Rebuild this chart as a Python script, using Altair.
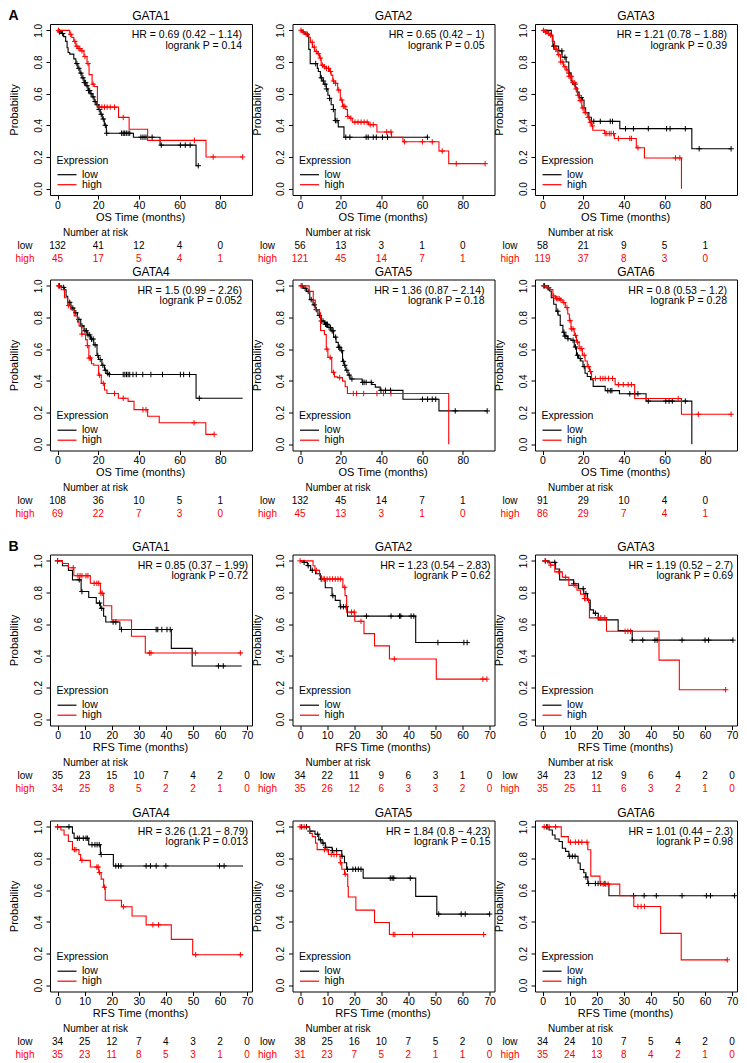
import altair as alt
import pandas as pd

FONT = "Liberation Sans"
RED = "#FF0000"
W, H = 202, 171
YDOM = [-0.04, 1.04]
OS_DOM = [-3.7, 95.6]
RFS_DOM = [-2.8, 71.8]
os_ticks = [0, 20, 40, 60, 80]
rfs_ticks = [0, 10, 20, 30, 40, 50, 60, 70]
y_ticks = [0.0, 0.2, 0.4, 0.6, 0.8, 1.0]

# ---------------- A: overall survival ----------------
a1_low = [(0,1.0),(1,0.99),(2,0.98),(3,0.96),(4,0.93),(4.7,0.89),(5.2,0.86),(6,0.85),(8,0.82),(9,0.79),(10,0.76),(11,0.73),(12,0.70),(13,0.67),(14,0.65),(15,0.62),(16,0.60),(17,0.58),(18,0.55),(19,0.53),(20,0.50),(21,0.47),(22,0.44),(23,0.40),(24,0.35),(37.3,0.325),(50.4,0.275),(68.1,0.145),(69.2,0.145)]
a1_low_c = [1, 2.5, 9.5, 10.5, 11.5, 12.5, 13.2, 13.8, 14.5, 15.2, 15.8, 16.5, 17.5, 18.5, 19.5, 20.5, 21.5, 22.5, 23.5, 24.2, 31.5, 32.3, 33, 33.8, 34.7, 35.5, 41, 42, 43, 44, 46.5, 51, 60.4, 62.8, 65.2, 69.2]
a1_high = [(0,1.0),(6,0.975),(7,0.955),(8,0.93),(9,0.90),(10,0.885),(11.5,0.87),(13,0.835),(14.5,0.79),(15.5,0.72),(17,0.66),(18,0.645),(19.6,0.515),(30,0.45),(35.2,0.375),(44.3,0.305),(73,0.20),(91,0.20)]
a1_high_c = [0.5, 6.5, 8.5, 9.5, 10.5, 11, 12, 13.5, 15, 17.5, 20.7, 21.8, 23.1, 24.4, 25.9, 28, 32.3, 67.3, 76.5, 91]
a1_risk_low = [132, 41, 12, 4, 0]
a1_risk_high = [45, 17, 5, 4, 1]

a2_low = [(0,1.0),(1.5,0.985),(2.5,0.975),(3.8,0.965),(4.3,0.88),(5,0.79),(8.5,0.76),(9,0.74),(10,0.70),(10.8,0.68),(11.7,0.66),(12.9,0.63),(13.7,0.59),(14.5,0.57),(15.3,0.53),(16.4,0.50),(17.2,0.43),(18.8,0.39),(21.6,0.325),(62.6,0.325)]
a2_low_c = [3.5, 7.7, 10.5, 11.5, 12.3, 13, 14.5, 16.4, 17.4, 18.2, 22.5, 24.5, 32.5, 33.5, 36, 37.5, 40.5, 43, 62.6]
a2_high = [(0,1.0),(0.8,0.99),(2.4,0.977),(4,0.956),(5.1,0.925),(6.1,0.894),(7.2,0.867),(8.5,0.852),(9.6,0.825),(10.4,0.78),(11.6,0.77),(12.9,0.76),(14.5,0.74),(15.3,0.717),(16.1,0.68),(17.2,0.665),(18.5,0.623),(19.8,0.56),(20.9,0.52),(22.5,0.50),(23.3,0.456),(24.4,0.445),(25.7,0.42),(33.7,0.404),(37.8,0.358),(45,0.325),(50.6,0.296),(68.3,0.2375),(73.1,0.158),(91,0.158)]
a2_high_c = [0.5, 1.5, 3, 6, 7, 8, 9, 10, 11, 12, 13, 14, 15, 16.5, 17.5, 19, 20.5, 21.3, 22, 23.5, 25, 27, 28.5, 30, 31.5, 33, 34.5, 36, 42.6, 44.7, 51.4, 60.2, 65, 69.9, 76.8, 91]
a2_risk_low = [56, 13, 3, 1, 0]
a2_risk_high = [121, 45, 14, 7, 1]

a3_low = [(0,1.0),(4.3,0.965),(5.1,0.90),(7.9,0.87),(9.6,0.83),(11.6,0.80),(12.9,0.73),(14,0.68),(14.8,0.66),(16.1,0.64),(16.9,0.61),(18,0.575),(19.6,0.56),(20.4,0.51),(21.2,0.48),(22.8,0.45),(24,0.425),(38,0.379),(73.4,0.252),(92.7,0.252)]
a3_low_c = [5.5, 9.5, 11, 13, 16, 19, 25.2, 28.4, 33.3, 34.4, 40.8, 44.7, 52, 61, 62.7, 70.2, 77, 92.7]
a3_high = [(0,1.0),(1,0.99),(2.7,0.98),(3.5,0.97),(4.8,0.93),(5.9,0.88),(7.5,0.846),(8.8,0.80),(10.3,0.77),(11.6,0.75),(12.9,0.71),(14.5,0.67),(16.1,0.63),(17.2,0.59),(18,0.556),(19.3,0.51),(20.4,0.48),(22,0.45),(23.1,0.42),(24,0.396),(24.7,0.369),(30.5,0.348),(35.3,0.317),(46.1,0.258),(50.1,0.194),(68.3,0.0)]
a3_high_c = [0.5, 1.5, 2.2, 3, 4, 6.5, 7, 8, 9, 10, 11, 12, 13, 13.6, 14.2, 15, 15.6, 16.5, 17.5, 18.5, 19.8, 21, 22.5, 23.5, 24.5, 30.8, 31.6, 32.8, 33.7, 34.9, 37.3, 42.9, 43.7, 46.9, 65.4, 67.5]
a3_risk_low = [58, 21, 9, 5, 1]
a3_risk_high = [119, 37, 8, 3, 0]

a4_low = [(0,1.0),(1.8,0.99),(3.4,0.975),(4.2,0.934),(5,0.896),(6.6,0.86),(8.2,0.83),(9.8,0.788),(11.4,0.747),(13,0.716),(14.6,0.69),(16.2,0.664),(17.8,0.627),(19.4,0.56),(20.2,0.535),(21.8,0.498),(23.1,0.467),(24.3,0.446),(25,0.44),(68.1,0.29),(91,0.29)]
a4_low_c = [1, 3, 6, 7.5, 9, 10.5, 12, 13.5, 14.2, 15, 15.8, 16.7, 17.5, 18.5, 19.8, 21, 22.3, 23.5, 24.7, 25.5, 32.3, 33.1, 33.9, 34.7, 35.5, 37.1, 38.7, 41.9, 45.9, 51.6, 60.4, 62, 64.9, 69.7]
a4_high = [(0,1.0),(1.8,0.975),(3.4,0.925),(5,0.875),(6.6,0.85),(8.2,0.81),(9.8,0.77),(10.6,0.747),(11.9,0.695),(13.8,0.66),(14.6,0.622),(15.4,0.544),(16.7,0.508),(17.8,0.498),(20.2,0.436),(21.5,0.384),(23.1,0.342),(24.3,0.32),(29.9,0.29),(34.7,0.27),(37.6,0.218),(44.3,0.176),(50,0.135),(72.9,0.062),(77,0.062)]
a4_high_c = [0.5, 5.5, 12, 14.8, 15.6, 16.2, 20.6, 22.5, 28, 32.3, 42, 43.5, 67.1, 77]
a4_risk_low = [108, 36, 10, 5, 1]
a4_risk_high = [69, 22, 7, 3, 0]

a5_low = [(0,1.0),(1.6,0.985),(3.2,0.965),(4.8,0.913),(6.4,0.88),(7.6,0.85),(8.8,0.813),(10.4,0.778),(12,0.757),(13.7,0.737),(15.3,0.716),(16.5,0.676),(17.7,0.643),(18.8,0.612),(20.1,0.59),(20.9,0.523),(21.7,0.498),(22.5,0.467),(23.6,0.436),(24.6,0.412),(30.5,0.39),(35.3,0.377),(37,0.36),(39.4,0.34),(50.6,0.284),(68.3,0.21),(92,0.21)]
a5_low_c = [1, 2.5, 4, 5.5, 7, 8, 9.5, 10.5, 11.3, 12.5, 13, 13.5, 14.3, 15, 15.8, 16.3, 17.5, 19, 19.5, 20.5, 21.3, 22, 23, 24.2, 25.5, 30.8, 31.5, 32.5, 35, 39.8, 42, 44.5, 60.2, 62.7, 65, 66.7, 76.3, 92]
a5_high = [(0,1.0),(4.5,0.965),(6.5,0.91),(7.5,0.85),(9.6,0.83),(10.1,0.718),(12,0.693),(12.9,0.6),(13.7,0.548),(14.9,0.54),(15.6,0.454),(16.9,0.425),(18.5,0.42),(20.9,0.398),(22.2,0.363),(23.3,0.32),(73.1,0.0)]
a5_high_c = [0.5, 13.2, 14.8, 16.5, 19.5, 26.2, 27.8, 31.3, 37.8, 41, 44.7]
a5_risk_low = [132, 45, 14, 7, 1]
a5_risk_high = [45, 13, 3, 1, 0]

a6_low = [(0,1.0),(1.9,0.988),(3.5,0.967),(4.3,0.925),(5.5,0.884),(6.7,0.84),(7.6,0.815),(8.7,0.75),(10,0.707),(10.8,0.683),(12.4,0.666),(14,0.656),(15.6,0.614),(16.7,0.562),(17.7,0.541),(18.8,0.525),(19.9,0.49),(20.9,0.448),(22,0.427),(23.6,0.407),(24.9,0.365),(30.8,0.338),(37.8,0.318),(50.9,0.272),(73.4,0.0)]
a6_low_c = [1, 3, 7.5, 10.5, 11, 11.5, 12.5, 15, 16.2, 17.2, 18.5, 20.5, 32.1, 33.3, 34.1, 42.9, 45.3, 46.9, 52, 60.6, 62.2, 63.8, 70.2]
a6_high = [(0,1.0),(1.9,0.988),(3.5,0.977),(5.1,0.936),(6.4,0.919),(8.4,0.911),(10,0.894),(11.2,0.863),(12.4,0.822),(13.2,0.78),(14,0.728),(15.6,0.687),(16.7,0.645),(18,0.604),(19.6,0.562),(20.9,0.525),(22,0.49),(23.1,0.459),(24.1,0.415),(35.7,0.376),(45.3,0.288),(68.3,0.189),(92.7,0.189)]
a6_high_c = [0.5, 2.5, 5.5, 6.8, 7.5, 8.2, 9, 10.5, 12, 13.5, 14.2, 15, 16.2, 17.2, 18.5, 19.3, 20.5, 22.5, 23.6, 26, 28.4, 29.7, 30.8, 32.4, 34.4, 37.3, 39.7, 42.1, 43.7, 66.7, 76.6, 92.7]
a6_risk_low = [91, 29, 10, 4, 0]
a6_risk_high = [86, 29, 7, 4, 1]

# ---------------- B: relapse-free survival ----------------
b1_low = [(0,1.0),(1.8,0.969),(4,0.94),(5.5,0.88),(8.7,0.806),(11.5,0.768),(14.3,0.733),(15.8,0.70),(17,0.65),(17.8,0.614),(23,0.566),(42,0.447),(49.7,0.336),(68,0.336)]
b1_low_c = [0, 8, 9, 15.5, 16.3, 20.5, 21.5, 23.6, 36.4, 37, 38.5, 40.4, 41.6, 59.4, 61.2]
b1_high = [(0,1.0),(1.8,0.983),(4,0.956),(6,0.906),(12.1,0.858),(15.8,0.795),(17,0.716),(20,0.626),(27.3,0.524),(32.4,0.418),(68,0.418)]
b1_high_c = [0, 5.8, 7.5, 8.3, 9, 10.5, 11.2, 13.5, 14.5, 15.2, 16, 16.5, 33.9, 34.5, 50.9, 67.5]
b1_risk_low = [35, 23, 15, 10, 7, 4, 2, 0]
b1_risk_high = [34, 25, 8, 5, 2, 2, 1, 0]

b2_low = [(0,1.0),(1.5,0.99),(2.7,0.97),(3.9,0.94),(5.7,0.918),(7.5,0.885),(9.3,0.83),(11.8,0.78),(13,0.75),(14.8,0.71),(17.5,0.651),(42.7,0.484),(62.4,0.484)]
b2_low_c = [1.5, 3, 4.5, 7.8, 12.1, 15, 16, 17, 24.5, 33.6, 36.7, 37.2, 41, 42, 50.9, 60.5, 61.7]
b2_high = [(0,1.0),(4.8,0.969),(5.5,0.94),(7.2,0.906),(7.9,0.885),(15.8,0.833),(16.6,0.78),(17.2,0.676),(20.2,0.618),(23.6,0.54),(27.5,0.463),(33,0.38),(50.3,0.253),(69,0.253)]
b2_high_c = [0, 6, 8.5, 9, 10, 11, 12, 13, 14, 15, 16.5, 19, 20, 22.5, 34.8, 67.5, 69]
b2_risk_low = [34, 22, 11, 9, 6, 3, 1, 0]
b2_risk_high = [35, 26, 12, 6, 3, 3, 2, 0]

b3_low = [(0,1.0),(2.4,0.99),(4.8,0.948),(6.3,0.88),(11.5,0.855),(13.3,0.824),(15.2,0.793),(16.6,0.752),(17.6,0.69),(18.8,0.669),(20.6,0.627),(27.9,0.559),(33.1,0.499),(70.3,0.499)]
b3_low_c = [1, 4.5, 11.5, 15, 16, 19.5, 33.1, 37, 41.5, 42.3, 51.5, 60, 61.3, 70.3]
b3_high = [(0,1.0),(1.8,0.986),(2.8,0.973),(4.5,0.93),(7.3,0.896),(9.7,0.845),(12.7,0.814),(14,0.79),(15.4,0.762),(17,0.737),(17.3,0.64),(23.6,0.555),(43,0.373),(50.5,0.186),(67.6,0.186)]
b3_high_c = [1, 3, 6, 8.5, 12, 15.5, 16, 20.5, 21.5, 23, 30.5, 31.5, 32.5, 67.6]
b3_risk_low = [34, 23, 12, 9, 6, 4, 2, 0]
b3_risk_high = [35, 25, 11, 6, 3, 2, 1, 0]

b4_low = [(0,1.0),(5.5,0.96),(6.1,0.928),(11.5,0.887),(15.8,0.825),(20.6,0.753),(68.5,0.753)]
b4_low_c = [0, 4.2, 7.3, 8, 9.5, 10.5, 11, 12.7, 13.8, 14.6, 15.4, 16.1, 21.5, 22.5, 23.4, 32.7, 34.3, 36.4, 40, 59.8, 61.5]
b4_high = [(0,1.0),(1.2,0.98),(2.4,0.948),(4,0.907),(5.5,0.856),(7.9,0.825),(8.5,0.788),(12.1,0.746),(15.2,0.711),(16.1,0.67),(17,0.619),(17.6,0.536),(23.6,0.495),(27.5,0.437),(32.7,0.381),(42,0.289),(49.9,0.192),(68.5,0.192)]
b4_high_c = [0, 6.2, 6.8, 9, 14.5, 15, 15.5, 17.3, 24.3, 35.2, 37.3, 51, 67.5]
b4_risk_low = [34, 25, 12, 7, 4, 3, 2, 0]
b4_risk_high = [35, 23, 11, 8, 5, 3, 1, 0]

b5_low = [(0,1.0),(3.5,0.973),(5.5,0.953),(6.9,0.918),(8.1,0.897),(9.3,0.87),(11.8,0.85),(15.4,0.814),(16.4,0.773),(17.2,0.732),(23.3,0.676),(42.7,0.561),(50.5,0.449),(70,0.449)]
b5_low_c = [0.6, 2.4, 3.6, 6.5, 7.5, 8.5, 9.5, 12, 13.5, 15.5, 17.5, 19.5, 20.5, 21.5, 22.5, 33.3, 34, 34.6, 40.7, 51.2, 59.5, 61, 70]
b5_high = [(0,1.0),(3.5,0.959),(4.5,0.938),(5.7,0.897),(6.3,0.856),(10.5,0.825),(14.8,0.773),(15.4,0.732),(16.4,0.701),(17.6,0.623),(17.8,0.557),(20.6,0.474),(27.5,0.396),(33,0.32),(67.8,0.32)]
b5_high_c = [0, 1.5, 9, 10, 11.5, 12.5, 13.5, 15, 16.7, 34.4, 35, 41.5, 67.8]
b5_risk_low = [38, 25, 16, 10, 7, 5, 2, 0]
b5_risk_high = [31, 23, 7, 5, 2, 1, 1, 0]

b6_low = [(0,1.0),(2.4,0.98),(3.6,0.948),(4.6,0.923),(6.1,0.907),(7.3,0.865),(8.5,0.845),(9.7,0.814),(13.1,0.772),(13.9,0.731),(15.2,0.71),(16,0.683),(16.7,0.642),(24.5,0.565),(70.9,0.565)]
b6_low_c = [1.5, 10, 11, 12, 16, 17, 19.5, 20.5, 21.5, 23, 33.6, 37.5, 42, 51.5, 60.5, 62, 70.9]
b6_high = [(0,1.0),(6.9,0.938),(9.5,0.903),(16.7,0.855),(17.8,0.689),(21.2,0.638),(28.5,0.565),(33.7,0.497),(43.6,0.327),(51.2,0.16),(68.2,0.16)]
b6_high_c = [0.6, 1.8, 2.4, 4.8, 10.3, 12.1, 13.3, 14.5, 16.4, 22.4, 23.3, 24.2, 35.2, 36.4, 37.6, 68.2]
b6_risk_low = [34, 24, 10, 7, 5, 4, 2, 0]
b6_risk_high = [35, 24, 13, 8, 4, 2, 1, 0]

genes = ["GATA1", "GATA2", "GATA3", "GATA4", "GATA5", "GATA6"]
os_hr = ["HR = 0.69 (0.42 \u2212 1.14)", "HR = 0.65 (0.42 \u2212 1)", "HR = 1.21 (0.78 \u2212 1.88)",
         "HR = 1.5 (0.99 \u2212 2.26)", "HR = 1.36 (0.87 \u2212 2.14)", "HR = 0.8 (0.53 \u2212 1.2)"]
os_p = ["logrank P = 0.14", "logrank P = 0.05", "logrank P = 0.39",
        "logrank P = 0.052", "logrank P = 0.18", "logrank P = 0.28"]
rfs_hr = ["HR = 0.85 (0.37 \u2212 1.99)", "HR = 1.23 (0.54 \u2212 2.83)", "HR = 1.19 (0.52 \u2212 2.7)",
          "HR = 3.26 (1.21 \u2212 8.79)", "HR = 1.84 (0.8 \u2212 4.23)", "HR = 1.01 (0.44 \u2212 2.3)"]
rfs_p = ["logrank P = 0.72", "logrank P = 0.62", "logrank P = 0.69",
         "logrank P = 0.013", "logrank P = 0.15", "logrank P = 0.98"]


def surv_at(pts, t):
    s = pts[0][1]
    for tt, ss in pts:
        if tt <= t:
            s = ss
        else:
            break
    return s


def txt(text, x, y, align="left", size=10, color="black", weight="normal"):
    return alt.Chart(pd.DataFrame({"txt": [text]})).mark_text(
        align=align, baseline="middle", font=FONT, fontSize=size,
        color=color, fontWeight=weight
    ).encode(x=alt.value(x), y=alt.value(y), text="txt:N")


def rule(x1, x2, y, color):
    return alt.Chart(pd.DataFrame({"k": [0]})).mark_rule(color=color, strokeWidth=1.2).encode(
        x=alt.value(x1), x2=alt.value(x2), y=alt.value(y))


def panel(title, low, low_c, high, high_c, r_low, r_high, hr, p, ticks, dom, xtitle,
          hr_inset, tag=None):
    xs = alt.Scale(domain=dom, nice=False, zero=False)
    ys = alt.Scale(domain=YDOM, nice=False, zero=False)
    xaxis = alt.Axis(values=ticks, format="d", title=xtitle, labelFont=FONT, labelFontSize=10.5,
                     labelColor="black", tickColor="black", tickSize=4, labelPadding=1,
                     domain=False, grid=False, labelFlush=False, labelOverlap=False,
                     titleFont=FONT, titleFontSize=11, titleFontWeight="normal", titleColor="black",
                     titleX=90, titleY=22, titleAlign="center", titleBaseline="middle")
    yaxis = alt.Axis(values=y_ticks, format=".1f", title="Probability", labelFont=FONT,
                     labelFontSize=10, labelColor="black", tickColor="black", tickSize=4,
                     labelAngle=270, labelAlign="center", labelBaseline="bottom", labelPadding=3,
                     domain=False, grid=False, labelFlush=False, labelOverlap=False,
                     titleFont=FONT, titleFontSize=11, titleFontWeight="normal", titleColor="black",
                     titleX=-35.5, titleY=H / 2, titleAngle=270, titleAlign="center",
                     titleBaseline="middle")
    X = lambda: alt.X("t:Q", scale=xs, axis=xaxis)
    Y = lambda: alt.Y("s:Q", scale=ys, axis=yaxis)
    layers = []
    for pts, cens, col in [(low, low_c, "black"), (high, high_c, RED)]:
        d = pd.DataFrame({"t": [q[0] for q in pts], "s": [q[1] for q in pts]})
        layers.append(alt.Chart(d).mark_line(interpolate="step-after", color=col,
                                             strokeWidth=1.1, clip=True).encode(x=X(), y=Y()))
        c = pd.DataFrame({"t": cens, "s": [surv_at(pts, t) for t in cens]})
        layers.append(alt.Chart(c).mark_point(shape="M-1,0H1M0,-1V1", size=30, filled=False,
                                              color=col, strokeWidth=1, opacity=1,
                                              clip=True).encode(x=X(), y=Y()))
    for vals, col, yy in [(r_low, "black", H + 50.5), (r_high, RED, H + 63.5)]:
        rd = pd.DataFrame({"t": ticks, "n": vals})
        layers.append(alt.Chart(rd).mark_text(font=FONT, fontSize=10, color=col,
                                              baseline="middle").encode(
            x=X(), y=alt.value(yy), text="n:Q"))
    layers += [
        txt(title, W / 2, -8, "center", 12),
        txt("Number at risk", 45.5, H + 37.5, "center"),
        txt("low", -25, H + 50.5, "center"),
        txt("high", -25, H + 63.5, "center", color=RED),
        txt(hr, W - hr_inset, 11, "right", 10.5),
        txt(p, W - hr_inset, 21.7, "right", 10.5),
        txt("Expression", 6.5, H - 34.5, "left", 10.5),
        rule(7.5, 26.5, H - 20.3, "black"),
        rule(7.5, 26.5, H - 10.3, RED),
        txt("low", 32, H - 20.3, "left", 10.5),
        txt("high", 32, H - 10.3, "left", 10.5),
    ]
    if tag:
        layers.append(txt(tag, -41.5, -8, "left", 14, weight="bold"))
    return alt.layer(*layers).properties(width=W, height=H)


os_data = [
    (a1_low, a1_low_c, a1_high, a1_high_c, a1_risk_low, a1_risk_high),
    (a2_low, a2_low_c, a2_high, a2_high_c, a2_risk_low, a2_risk_high),
    (a3_low, a3_low_c, a3_high, a3_high_c, a3_risk_low, a3_risk_high),
    (a4_low, a4_low_c, a4_high, a4_high_c, a4_risk_low, a4_risk_high),
    (a5_low, a5_low_c, a5_high, a5_high_c, a5_risk_low, a5_risk_high),
    (a6_low, a6_low_c, a6_high, a6_high_c, a6_risk_low, a6_risk_high),
]
rfs_data = [
    (b1_low, b1_low_c, b1_high, b1_high_c, b1_risk_low, b1_risk_high),
    (b2_low, b2_low_c, b2_high, b2_high_c, b2_risk_low, b2_risk_high),
    (b3_low, b3_low_c, b3_high, b3_high_c, b3_risk_low, b3_risk_high),
    (b4_low, b4_low_c, b4_high, b4_high_c, b4_risk_low, b4_risk_high),
    (b5_low, b5_low_c, b5_high, b5_high_c, b5_risk_low, b5_risk_high),
    (b6_low, b6_low_c, b6_high, b6_high_c, b6_risk_low, b6_risk_high),
]

os_panels = []
for i, g in enumerate(genes):
    lo, loc, hi, hic, rl, rh = os_data[i]
    os_panels.append(panel(g, lo, loc, hi, hic, rl, rh, os_hr[i], os_p[i], os_ticks, OS_DOM,
                           "OS Time (months)", 10, "A" if i == 0 else None))
rfs_panels = []
for i, g in enumerate(genes):
    lo, loc, hi, hic, rl, rh = rfs_data[i]
    rfs_panels.append(panel(g, lo, loc, hi, hic, rl, rh, rfs_hr[i], rfs_p[i], rfs_ticks, RFS_DOM,
                            "RFS Time (months)", 4, "B" if i == 0 else None))

COLSP = 40.5
rowA1 = alt.hconcat(*os_panels[:3], spacing=COLSP, bounds="flush")
rowA2 = alt.hconcat(*os_panels[3:], spacing=COLSP, bounds="flush")
rowB1 = alt.hconcat(*rfs_panels[:3], spacing=COLSP, bounds="flush")
rowB2 = alt.hconcat(*rfs_panels[3:], spacing=COLSP, bounds="flush")
secA = alt.vconcat(rowA1, rowA2, spacing=0.5)
secB = alt.vconcat(rowB1, rowB2, spacing=11)

chart = alt.vconcat(secA, secB, spacing=18.5).properties(
    padding=0, background="white"
).configure_view(stroke="black", strokeWidth=1)

chart.save("out.html", embed_options={"renderer": "svg", "actions": False})
